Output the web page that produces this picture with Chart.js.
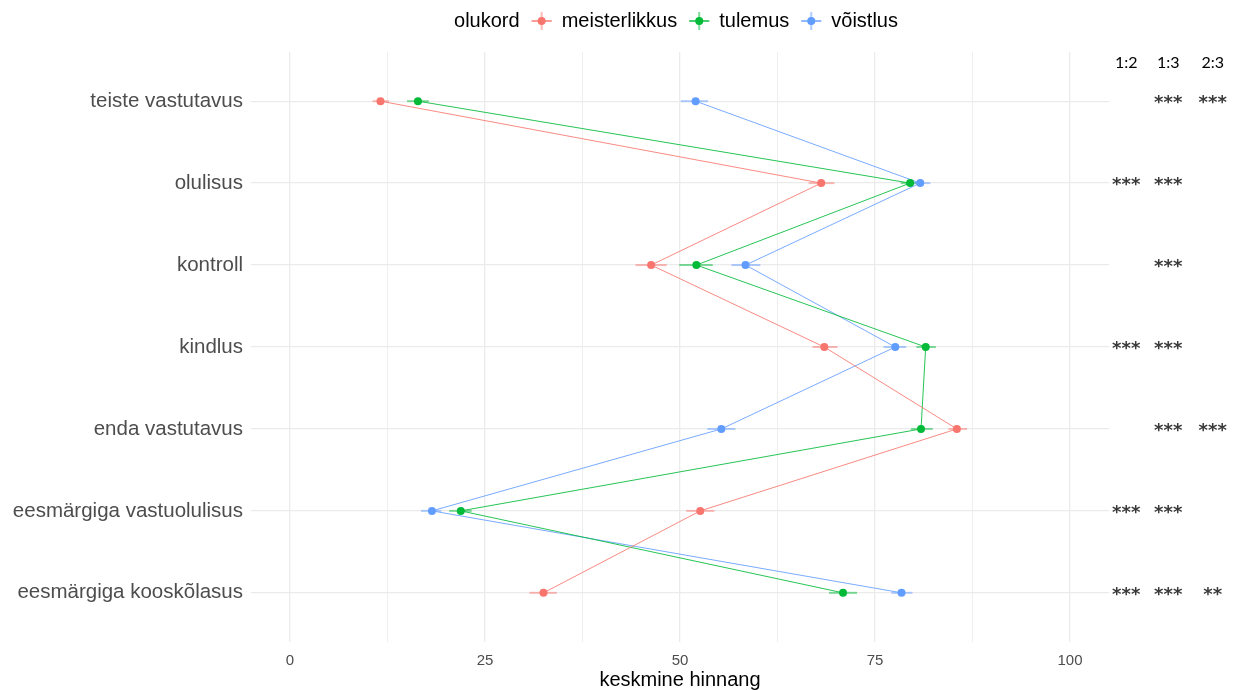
<!DOCTYPE html>
<html>
<head>
<meta charset="utf-8">
<script src="https://cdn.jsdelivr.net/npm/chart.js@4/dist/chart.umd.min.js"></script>
<style>
  html, body { margin: 0; padding: 0; background: #ffffff; }
  canvas { display: block; }
</style>
</head>
<body>
<canvas id="c" width="1234" height="690"></canvas>
<script>
// Statements rated (top to bottom)
const categories = [
  'teiste vastutavus',
  'olulisus',
  'kontroll',
  'kindlus',
  'enda vastutavus',
  'eesmärgiga vastuolulisus',
  'eesmärgiga kooskõlasus'
];

// Mean ratings per situation, with lower / upper interval bounds
const meisterlikkus     = [11.6, 68.1, 46.3, 68.5, 85.5, 52.6, 32.5];
const meisterlikkusLow  = [10.6, 66.5, 44.3, 67.0, 84.4, 50.8, 30.7];
const meisterlikkusHigh = [12.7, 69.8, 48.3, 70.2, 86.8, 54.4, 34.2];

const tulemus     = [16.4, 79.5, 52.1, 81.5, 80.9, 21.9, 70.9];
const tulemusLow  = [15.0, 78.3, 49.9, 80.3, 79.6, 20.4, 69.1];
const tulemusHigh = [17.8, 80.6, 54.2, 82.8, 82.4, 23.3, 72.7];

const voistlus     = [52.0, 80.8, 58.4, 77.6, 55.3, 18.2, 78.4];
const voistlusLow  = [50.1, 79.5, 56.6, 76.1, 53.5, 16.8, 77.1];
const voistlusHigh = [53.6, 82.1, 60.3, 79.0, 57.1, 19.4, 79.8];

// Pairwise comparison significance (1 = meisterlikkus, 2 = tulemus, 3 = võistlus)
const comparisons = ['1:2', '1:3', '2:3'];
const sig12 = ['', '***', '', '***', '', '***', '***'];
const sig13 = ['***', '***', '***', '***', '***', '***', '***'];
const sig23 = ['***', '', '', '', '***', '', '**'];

const xTicks = [0, 25, 50, 75, 100];
const legendTitle = 'olukord';
const xTitle = 'keskmine hinnang';

const seriesNames  = ['meisterlikkus', 'tulemus', 'võistlus'];
const seriesColors = ['#F8766D', '#00BA38', '#619CFF'];
const seriesValues = [meisterlikkus, tulemus, voistlus];
const seriesLow    = [meisterlikkusLow, tulemusLow, voistlusLow];
const seriesHigh   = [meisterlikkusHigh, tulemusHigh, voistlusHigh];
const sigColumns   = [sig12, sig13, sig23];
const sigColumnX   = [107.2, 112.6, 118.3];

const FONT = '"Liberation Sans", Arial, sans-serif';

function withAlpha(hex, a) {
  const n = parseInt(hex.slice(1), 16);
  return `rgba(${(n >> 16) & 255},${(n >> 8) & 255},${n & 255},${a})`;
}

const datasets = seriesNames.map((name, s) => ({
  label: name,
  data: categories.map((c, i) => ({ x: seriesValues[s][i], y: i })),
  showLine: true,
  borderColor: withAlpha(seriesColors[s], 0.85),
  borderWidth: 1,
  backgroundColor: seriesColors[s],
  pointBackgroundColor: seriesColors[s],
  pointBorderWidth: 0,
  pointRadius: 4,
  tension: 0
}));

// Horizontal interval bars behind the points
const errorBars = {
  id: 'errorBars',
  beforeDatasetsDraw(chart) {
    const { ctx, scales: { x, y } } = chart;
    ctx.save();
    ctx.lineWidth = 2;
    seriesNames.forEach((n, s) => {
      ctx.strokeStyle = withAlpha(seriesColors[s], 0.5);
      categories.forEach((c, i) => {
        const py = y.getPixelForValue(i);
        ctx.beginPath();
        ctx.moveTo(x.getPixelForValue(seriesLow[s][i]), py);
        ctx.lineTo(x.getPixelForValue(seriesHigh[s][i]), py);
        ctx.stroke();
      });
    });
    ctx.restore();
  }
};

// Legend with point + cross glyphs
const legendTop = {
  id: 'legendTop',
  afterDraw(chart) {
    const { ctx, chartArea } = chart;
    ctx.save();
    ctx.font = '20px ' + FONT;
    ctx.textBaseline = 'middle';
    const toGlyph = 22, fromGlyph = 20;
    const titleW = ctx.measureText(legendTitle).width;
    const widths = seriesNames.map(n => ctx.measureText(n).width);
    const total = titleW + widths.reduce((a, w) => a + toGlyph + fromGlyph + w, 0);
    let xPos = (chartArea.left + chartArea.right) / 2 - total / 2 - 4;
    const yPos = 21;
    ctx.fillStyle = '#000000';
    ctx.textAlign = 'left';
    ctx.fillText(legendTitle, xPos, yPos);
    xPos += titleW;
    seriesNames.forEach((n, s) => {
      const cx = xPos + toGlyph;
      ctx.strokeStyle = withAlpha(seriesColors[s], 0.5);
      ctx.lineWidth = 2;
      ctx.beginPath();
      ctx.moveTo(cx - 10, yPos); ctx.lineTo(cx + 10, yPos);
      ctx.moveTo(cx, yPos - 9); ctx.lineTo(cx, yPos + 9);
      ctx.stroke();
      ctx.strokeStyle = withAlpha(seriesColors[s], 0.85);
      ctx.lineWidth = 1;
      ctx.beginPath();
      ctx.moveTo(cx - 10, yPos); ctx.lineTo(cx + 10, yPos);
      ctx.stroke();
      ctx.fillStyle = seriesColors[s];
      ctx.beginPath();
      ctx.arc(cx, yPos, 4, 0, Math.PI * 2);
      ctx.fill();
      xPos = cx + fromGlyph;
      ctx.fillStyle = '#000000';
      ctx.fillText(n, xPos, yPos);
      xPos += widths[s];
    });
    ctx.restore();
  }
};

// Significance columns to the right of the panel
const sigMarks = {
  id: 'sigMarks',
  afterDraw(chart) {
    const { ctx, scales: { x, y } } = chart;
    ctx.save();
    ctx.textAlign = 'left';
    ctx.textBaseline = 'middle';
    ctx.fillStyle = '#000000';
    ctx.font = '16px Lato, "Open Sans", sans-serif';
    comparisons.forEach((lab, k) => {
      const w = ctx.measureText(lab).width;
      ctx.fillText(lab, x.getPixelForValue(sigColumnX[k]) - w / 2, 63);
    });
    ctx.fillStyle = '#3a3a3a';
    ctx.font = 'bold 18px "DejaVu Sans", sans-serif';
    const pitch = 9.5;
    sigColumns.forEach((col, k) => {
      col.forEach((txt, i) => {
        if (!txt) return;
        const cx = x.getPixelForValue(sigColumnX[k]);
        const py = y.getPixelForValue(i) + 2;
        const start = cx - (txt.length - 1) * pitch / 2;
        for (let j = 0; j < txt.length; j++) {
          const w = ctx.measureText(txt[j]).width;
          ctx.fillText(txt[j], start + j * pitch - w / 2, py);
        }
      });
    });
    ctx.restore();
  }
};

new Chart(document.getElementById('c'), {
  type: 'scatter',
  data: { datasets },
  plugins: [errorBars, legendTop, sigMarks],
  options: {
    responsive: false,
    animation: false,
    layout: { padding: { left: 0, right: 125, top: 52, bottom: 0 } },
    plugins: { legend: { display: false }, tooltip: { enabled: false } },
    scales: {
      x: {
        type: 'linear',
        min: -5,
        max: 105,
        afterBuildTicks(axis) {
          axis.ticks = [0, 12.5, 25, 37.5, 50, 62.5, 75, 87.5, 100].map(v => ({ value: v }));
        },
        afterFit(axis) { axis.height = 48; },
        border: { display: false },
        grid: {
          drawTicks: false,
          color: '#EBEBEB',
          lineWidth: c => (c.tick && xTicks.includes(c.tick.value)) ? 1.3 : 0.8
        },
        ticks: {
          padding: 10,
          color: '#4D4D4D',
          font: { family: FONT, size: 15 },
          callback: v => xTicks.includes(v) ? String(v) : ''
        },
        title: {
          display: true,
          text: xTitle,
          color: '#000000',
          font: { family: FONT, size: 20 },
          padding: { top: 0, bottom: -2 }
        }
      },
      y: {
        type: 'linear',
        reverse: true,
        min: -0.6,
        max: 6.6,
        afterBuildTicks(axis) {
          axis.ticks = categories.map((c, i) => ({ value: i }));
        },
        afterFit(axis) { axis.width = 251; },
        border: { display: false },
        grid: { drawTicks: false, color: '#EBEBEB', lineWidth: 1.3 },
        ticks: {
          padding: 8,
          color: '#4D4D4D',
          font: { family: FONT, size: 20.5 },
          callback: v => categories[v]
        }
      }
    }
  }
});
</script>
</body>
</html>
